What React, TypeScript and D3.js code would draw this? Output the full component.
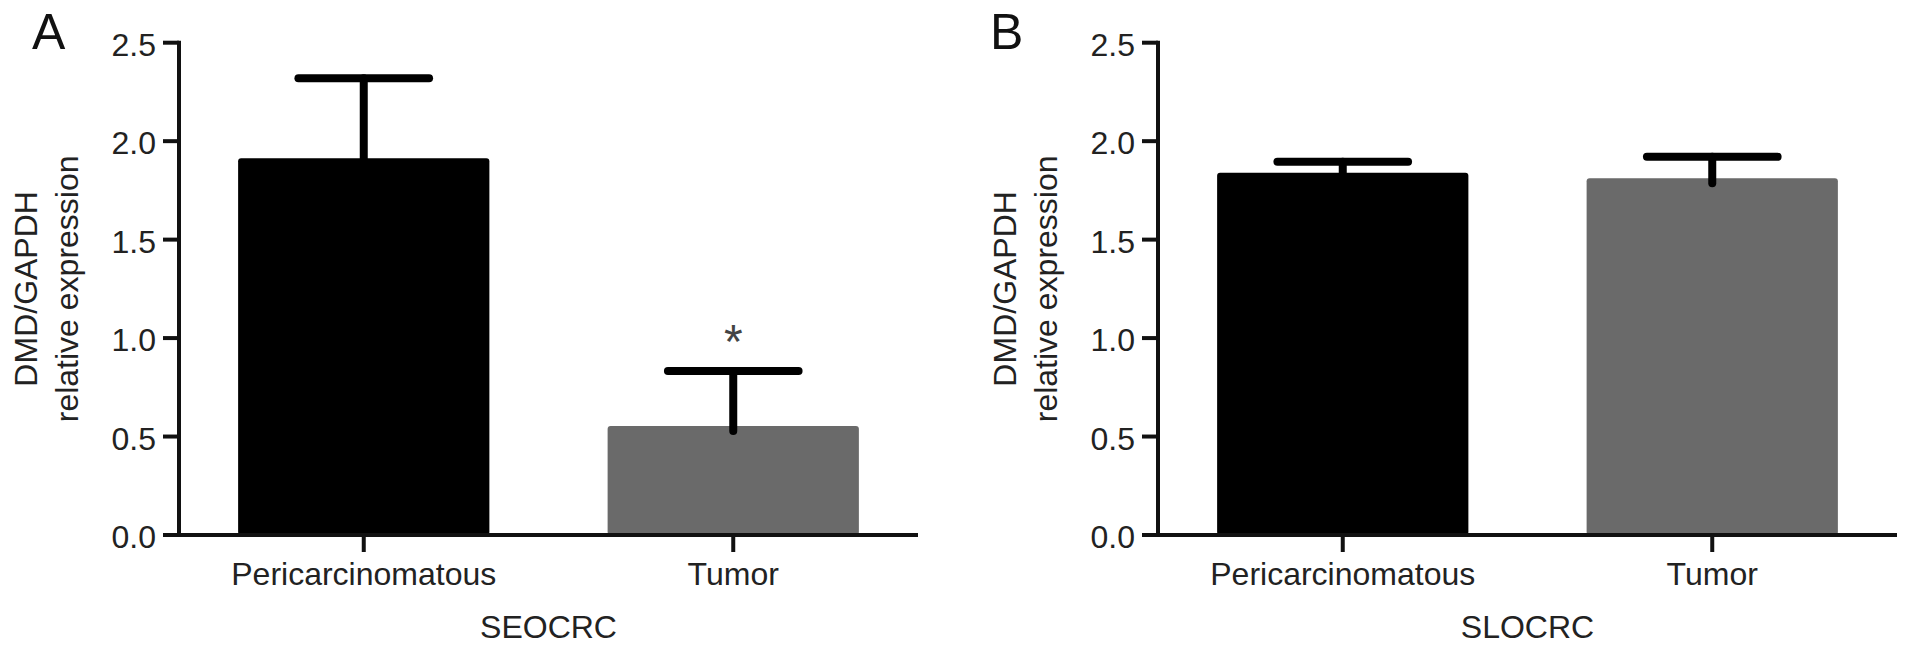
import React from "react";
import * as d3 from "d3";

const categories = ["Pericarcinomatous", "Tumor"];
const seocrcMeans = [1.913, 0.554];
const seocrcErrors = [0.406, 0.279];
const slocrcMeans = [1.84, 1.812];
const slocrcErrors = [0.056, 0.109];
const yTicks = [0, 0.5, 1.0, 1.5, 2.0, 2.5];
const barColors = ["#000000", "#6a6a6a"];
const panelLetters = ["A", "B"];
const groupTitles = ["SEOCRC", "SLOCRC"];
const yTitleLines = ["DMD/GAPDH", "relative expression"];
const significance = ["", "*"];

const W = 1913;
const H = 652;
const FONT = "'Liberation Sans', Arial, Helvetica, sans-serif";

type PanelProps = {
  x0: number;
  means: number[];
  errors: number[];
  letter: string;
  letterX: number;
  title: string;
  marks: string[];
};

function Panel({ x0, means, errors, letter, letterX, title, marks }: PanelProps) {
  const axisLen = 739;
  const y = d3.scaleLinear().domain([0, 2.5]).range([535, 42.7]);
  const x = d3
    .scaleBand<string>()
    .domain(categories)
    .range([x0, x0 + axisLen])
    .paddingInner(0.32)
    .paddingOuter(0.16);
  const bw = x.bandwidth();
  const capHalf = bw * 0.26;
  const y0 = y(0);
  const yTop = y(2.5);
  return (
    <g>
      <text x={letterX} y={49} fontSize={50} fontFamily={FONT} fill="#111">
        {letter}
      </text>
      {/* y title */}
      <g transform={`translate(${x0 - 142},${(y0 + yTop) / 2}) rotate(-90)`}>
        <text x={0} y={0} textAnchor="middle" fontSize={32} fontFamily={FONT} fill="#222">
          {yTitleLines[0]}
        </text>
      </g>
      <g transform={`translate(${x0 - 101},${(y0 + yTop) / 2}) rotate(-90)`}>
        <text x={0} y={0} textAnchor="middle" fontSize={32} fontFamily={FONT} fill="#222">
          {yTitleLines[1]}
        </text>
      </g>
      {/* bars */}
      {categories.map((c, i) => (
        <rect
          key={c}
          x={x(c)}
          y={y(means[i])}
          width={bw}
          height={y0 - y(means[i])}
          fill={barColors[i]}
          rx={3}
        />
      ))}
      {/* error bars */}
      {categories.map((c, i) => {
        const cx = (x(c) as number) + bw / 2;
        const top = y(means[i] + errors[i]);
        return (
          <g key={c} stroke="#000" strokeWidth={8} strokeLinecap="round">
            <line x1={cx} x2={cx} y1={y(means[i]) + 5} y2={top} />
            <line x1={cx - capHalf} x2={cx + capHalf} y1={top} y2={top} />
          </g>
        );
      })}
      {/* significance marks */}
      {categories.map((c, i) =>
        marks[i] ? (
          <text
            key={c}
            x={(x(c) as number) + bw / 2}
            y={y(means[i] + errors[i]) - 13}
            textAnchor="middle"
            fontSize={48}
            fontFamily={FONT}
            fill="#444"
          >
            {marks[i]}
          </text>
        ) : null
      )}
      {/* y axis */}
      <line x1={x0} x2={x0} y1={yTop - 2} y2={y0 + 2} stroke="#111" strokeWidth={4} />
      {yTicks.map((t) => (
        <g key={t}>
          <line x1={x0 - 16} x2={x0} y1={y(t)} y2={y(t)} stroke="#111" strokeWidth={4} />
          <text
            x={x0 - 23}
            y={y(t) + 13}
            textAnchor="end"
            fontSize={32}
            fontFamily={FONT}
            fill="#222"
          >
            {d3.format(".1f")(t)}
          </text>
        </g>
      ))}
      {/* x axis */}
      <line x1={x0 - 2} x2={x0 + axisLen} y1={y0} y2={y0} stroke="#111" strokeWidth={4} />
      {categories.map((c) => {
        const cx = (x(c) as number) + bw / 2;
        return (
          <g key={c}>
            <line x1={cx} x2={cx} y1={y0} y2={y0 + 17} stroke="#111" strokeWidth={4} />
            <text x={cx} y={585} textAnchor="middle" fontSize={32} fontFamily={FONT} fill="#222">
              {c}
            </text>
          </g>
        );
      })}
      <text
        x={x0 + axisLen / 2}
        y={638}
        textAnchor="middle"
        fontSize={32}
        fontFamily={FONT}
        fill="#222"
      >
        {title}
      </text>
    </g>
  );
}

export default function App() {
  return (
    <svg
      width={W}
      height={H}
      style={{ position: "absolute", left: 0, top: 0, background: "#fff" }}
    >
      <rect x={0} y={0} width={W} height={H} fill="#fff" />
      <Panel
        x0={179}
        means={seocrcMeans}
        errors={seocrcErrors}
        letter={panelLetters[0]}
        letterX={32}
        title={groupTitles[0]}
        marks={significance}
      />
      <Panel
        x0={1158}
        means={slocrcMeans}
        errors={slocrcErrors}
        letter={panelLetters[1]}
        letterX={990}
        title={groupTitles[1]}
        marks={["", ""]}
      />
    </svg>
  );
}
